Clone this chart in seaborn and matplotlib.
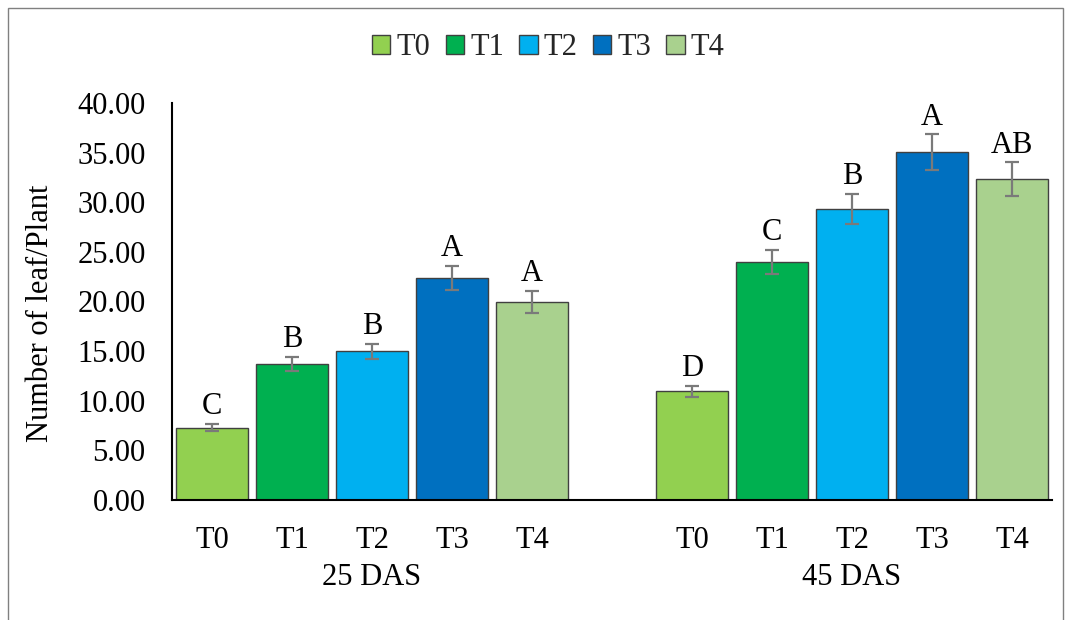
import numpy as np
import pandas as pd
import matplotlib
matplotlib.use("Agg")
import matplotlib.pyplot as plt
import seaborn as sns
from matplotlib.patches import Rectangle

# ---- data ----
groups = ["25 DAS", "45 DAS"]
treatments = ["T0", "T1", "T2", "T3", "T4"]
values_25 = [7.30, 13.68, 14.98, 22.34, 19.95]
values_45 = [10.95, 23.98, 29.32, 35.03, 32.34]
errors_25 = [0.37, 0.71, 0.77, 1.22, 1.09]
errors_45 = [0.55, 1.24, 1.53, 1.81, 1.68]
letters_25 = ["C", "B", "B", "A", "A"]
letters_45 = ["D", "C", "B", "A", "AB"]
colors = ["#92D050", "#00B050", "#00B0F0", "#0070C0", "#A9D18E"]
yticks = [0, 5, 10, 15, 20, 25, 30, 35, 40]

rows = []
for gi, (g, vals, errs, lets) in enumerate(zip(groups, [values_25, values_45],
                                               [errors_25, errors_45],
                                               [letters_25, letters_45])):
    for ti, t in enumerate(treatments):
        rows.append({"group": g, "treatment": t, "pos": gi * 6 + ti,
                     "value": vals[ti], "err": errs[ti], "letter": lets[ti]})
df = pd.DataFrame(rows)

sns.set_theme(style="white")
plt.rcParams["font.family"] = ["Liberation Serif", "DejaVu Serif"]
FS = 22

fig = plt.figure(figsize=(10.69, 6.20), dpi=100)
ax = fig.add_axes([172 / 1069, 1 - 500 / 620, 880 / 1069, 397 / 620])

palette = dict(zip(treatments, colors))
sns.barplot(data=df, x="pos", y="value", hue="treatment", palette=palette,
            native_scale=True, dodge=False, width=0.9, saturation=1,
            edgecolor="#404040", linewidth=1.0, ax=ax, legend=True)

ax.errorbar(df["pos"], df["value"], yerr=df["err"], fmt="none",
            ecolor="#7a7a7a", elinewidth=1.6, capsize=5, capthick=1.6, zorder=5)

for _, r in df.iterrows():
    ax.annotate(r["letter"], (r["pos"], r["value"] + r["err"]),
                xytext=(0, 7), textcoords="offset points",
                ha="center", va="baseline", fontsize=FS, color="black")

ax.set_xlim(-0.5, 10.5)
ax.set_ylim(0, 40)
ax.set_yticks(yticks)
ax.set_yticklabels([f"{v:.2f}" for v in yticks])
ax.set_xticks(df["pos"])
ax.set_xticklabels(df["treatment"])
ax.tick_params(axis="x", length=0, pad=19, labelsize=FS, colors="black")
ax.tick_params(axis="y", length=0, pad=19, labelsize=FS, colors="black")
ax.set_xlabel("")
ax.set_ylabel("Number of leaf/Plant", fontsize=FS, color="black")
ax.yaxis.set_label_coords(-0.133, 0.47)

for s in ["top", "right"]:
    ax.spines[s].set_visible(False)
for s in ["left", "bottom"]:
    ax.spines[s].set_color("black")
    ax.spines[s].set_linewidth(1.5)

trans = matplotlib.transforms.blended_transform_factory(ax.transData, ax.transAxes)
for gi, g in enumerate(groups):
    ax.text(gi * 6 + 2, -0.196, g, transform=trans, ha="center", va="center",
            fontsize=FS, color="black")

handles, labels = ax.get_legend_handles_labels()
ax.get_legend().remove()
for h in handles:
    h.set_edgecolor("#404040")
fig.legend(handles, labels, loc="center", bbox_to_anchor=(0.513, 0.923),
           ncol=5, frameon=False, fontsize=FS, handlelength=0.6,
           handleheight=0.6, handletextpad=0.2, columnspacing=0.5)

fig.patches.append(Rectangle((8 / 1069, -0.05), 1055 / 1069, 1 - 8 / 620 + 0.05,
                             transform=fig.transFigure, fill=False,
                             edgecolor="#808080", linewidth=1.0))

fig.savefig("out.png", dpi=100)
